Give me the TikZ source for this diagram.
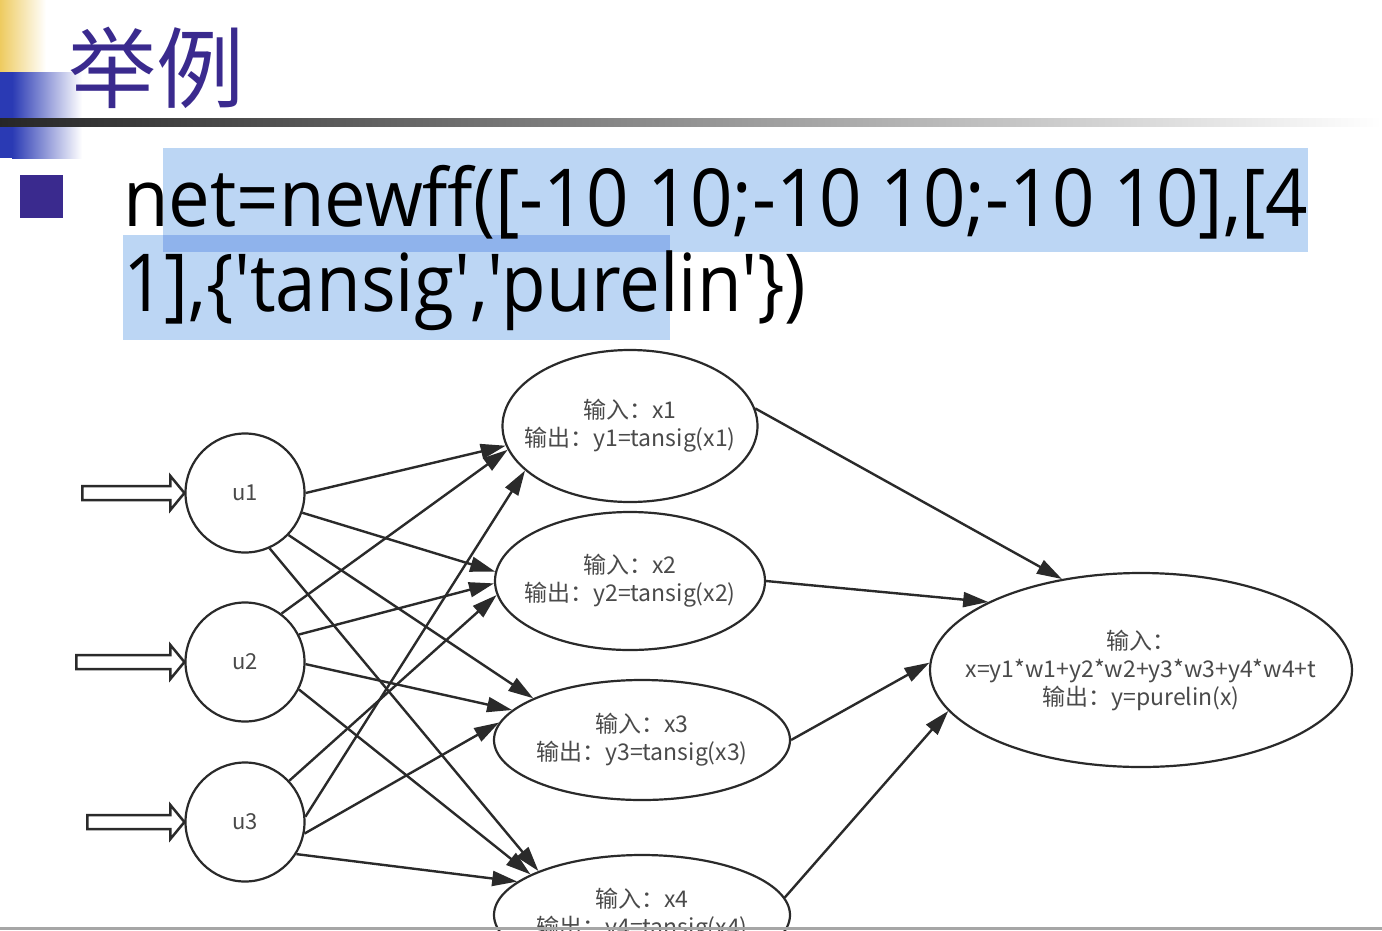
\documentclass[tikz,border=0pt]{standalone}
\usepackage{fontspec}
\usepackage{graphicx}
\usetikzlibrary{arrows.meta,shapes.geometric,calc}
\newfontfamily\cjk{Noto Sans CJK SC}
\newfontfamily\codefont[Ligatures=TeXOff]{Open Sans}
\definecolor{titlepurple}{HTML}{3A2A8E}
\definecolor{selblue}{HTML}{BCD6F4}
\definecolor{seldark}{HTML}{8FB3EC}
\definecolor{edgegray}{HTML}{2A2A2A}
\definecolor{labelgray}{HTML}{4A4A4A}
\definecolor{barblue}{HTML}{2A3AB4}
\definecolor{baryellow}{HTML}{EECB60}

% hollow block arrow feeding a neuron from the left
\newcommand\feedarrow[2]{%
  \draw[feed] ($(#1.west)+(-#2,-7)$) -- ($(#1.west)+(-14,-7)$) -- ($(#1.west)+(-14,-17)$)
    -- (#1.west) -- ($(#1.west)+(-14,17)$) -- ($(#1.west)+(-14,7)$) -- ($(#1.west)+(-#2,7)$) -- cycle;}

\begin{document}
\begin{tikzpicture}[x=1pt,y=-1pt,
  neuron/.style={circle, draw=edgegray, line width=2.2pt, minimum size=119pt, inner sep=0pt,
    fill=white, font=\cjk\fontsize{22}{24}\selectfont, text=labelgray},
  unit/.style={ellipse, draw=edgegray, line width=2.2pt, inner sep=0pt, fill=white},
  lbl/.style={align=center, font=\cjk\fontsize{23}{28}\selectfont, text=labelgray, inner sep=0pt},
  link/.style={draw=edgegray, line width=2.4pt, -{Triangle[length=25pt,width=15pt]}},
  feed/.style={draw=edgegray, line width=2.5pt, fill=white, line join=miter},
  codeline/.style={anchor=base west, inner sep=0pt, font=\codefont\fontsize{80}{80}\selectfont},
]
\clip (0,0) rectangle (1382,930);
\useasboundingbox (0,0) rectangle (1382,930);
\fill[white] (0,0) rectangle (1382,930);

% slide header decoration
\shade[left color=baryellow, right color=white] (0,0) rectangle (46,72);
\fill[barblue] (0,72) rectangle (12,158);
\shade[left color=barblue, right color=white] (12,72) rectangle (82,158);
\shade[left color=black!85, right color=white] (0,118) rectangle (1382,126);

\node[text=titlepurple, font=\cjk\fontsize{88}{88}\selectfont, inner sep=0pt] (title) at (156,68) {举例};
\node[fill=titlepurple, minimum size=43pt, inner sep=0pt] (bullet) at (41,196.5) {};

% selection highlight
\fill[selblue] (163,148) rectangle (1308,252);
\fill[selblue] (123,235) rectangle (670,340);
\fill[seldark] (163,235) rectangle (670,252);

\node[codeline] (code1) at (123,226) {\resizebox{1185pt}{\height}{net=newff([-10 10;-10 10;-10 10],[4}};
\node[codeline] (code2) at (123,311) {\resizebox{683pt}{\height}{1],\{'tansig','purelin'\})}};

% input layer
\node[neuron] (u1) at (245,493) {u1};
\node[neuron] (u2) at (245,662) {u2};
\node[neuron] (u3) at (245,822) {u3};

% hidden layer
\node[unit, minimum width=255pt, minimum height=152pt,
  label={[lbl]center:输入：x1\\输出：y1=tansig(x1)}] (x1) at (630,426) {};
\node[unit, minimum width=270pt, minimum height=138pt,
  label={[lbl]center:输入：x2\\输出：y2=tansig(x2)}] (x2) at (630,581) {};
\node[unit, minimum width=296pt, minimum height=120pt,
  label={[lbl]center:输入：x3\\输出：y3=tansig(x3)}] (x3) at (642,740) {};
\node[unit, minimum width=296pt, minimum height=120pt,
  label={[lbl]center:输入：x4\\输出：y4=tansig(x4)}] (x4) at (642,915) {};

% output layer
\node[unit, minimum width=422pt, minimum height=194pt,
  label={[lbl]center:输入：\\x=y1*w1+y2*w2+y3*w3+y4*w4+t\\输出：y=purelin(x)}] (out) at (1141,670) {};

% input layer -> hidden layer
\draw[link] (u1.0)   -- (x1.189);
\draw[link] (u1.-19) -- (x2.176);
\draw[link] (u1.-44) -- (x3.159);
\draw[link] (u1.-66) -- (x4.157);
\draw[link] (u2.53)  -- (x1.191);
\draw[link] (u2.27)  -- (x2.181);
\draw[link] (u2.-2)  -- (x3.167);
\draw[link] (u2.-27) -- (x4.160);
\draw[link] (u3.5)   -- (x1.203);
\draw[link] (u3.43)  -- (x2.186);
\draw[link] (u3.-11) -- (x3.173);
\draw[link] (u3.-32) -- (x4.165);

% hidden layer -> output
\draw[link] (x1.8)  -- (out.131);
\draw[link] (x2.0)  -- (out.156);
\draw[link] (x3.0)  -- (out.178);
\draw[link] (x4.7)  -- (out.192);

% inputs
\feedarrow{u1}{102}
\feedarrow{u2}{108}
\feedarrow{u3}{97}

\fill[black!35] (0,927) rectangle (1382,930);
\end{tikzpicture}
\end{document}
